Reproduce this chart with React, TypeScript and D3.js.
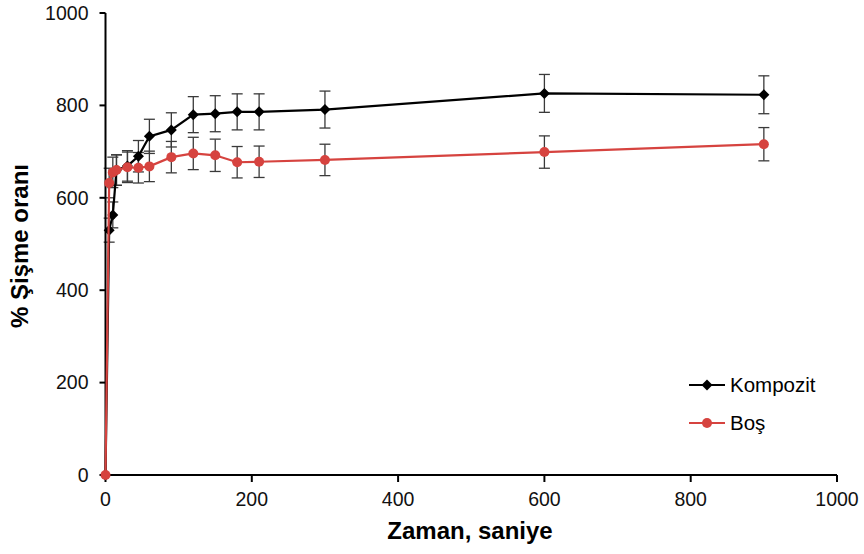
import React from 'react';
import * as d3 from 'd3';

const times = [0, 5, 10, 15, 30, 45, 60, 90, 120, 150, 180, 210, 300, 600, 900];
const kompozit = [0, 530, 563, 660, 669, 690, 733, 747, 780, 782, 786, 786, 791, 826, 823];
const kompozitErr = [0, 26, 28, 33, 33, 34, 37, 37, 39, 39, 39, 39, 40, 41, 41];
const bos = [0, 632, 655, 660, 666, 665, 668, 688, 696, 692, 677, 678, 682, 699, 716];
const bosErr = [0, 32, 33, 33, 33, 33, 33, 34, 35, 35, 34, 34, 34, 35, 36];
const xTicks = [0, 200, 400, 600, 800, 1000];
const yTicks = [0, 200, 400, 600, 800, 1000];

const W = 864;
const H = 554;
const RED = '#d6433f';

const App = () => {
  const x = d3.scaleLinear().domain([0, 1000]).range([105.5, 837]);
  const y = d3.scaleLinear().domain([0, 1000]).range([475, 13]);

  const series = [
    { name: 'Kompozit', values: kompozit, err: kompozitErr, color: '#000', marker: 'diamond' },
    { name: 'Boş', values: bos, err: bosErr, color: RED, marker: 'circle' },
  ];

  const line = d3
    .line<number>()
    .x((_, i) => x(times[i]))
    .y((d) => y(d));

  const diamond = (cx: number, cy: number, r: number) =>
    `M${cx},${cy - r}L${cx + r},${cy}L${cx},${cy + r}L${cx - r},${cy}Z`;

  const marker = (kind: string, cx: number, cy: number, color: string, key?: any) =>
    kind === 'diamond' ? (
      <path key={key} d={diamond(cx, cy, 5.5)} fill={color} />
    ) : (
      <circle key={key} cx={cx} cy={cy} r={5} fill={color} />
    );

  return (
    <svg
      width={W}
      height={H}
      style={{ position: 'absolute', left: 0, top: 0, background: '#fff' }}
      fontFamily="'Liberation Sans', Arial, sans-serif"
    >
      {/* error bars */}
      {series.map((s) => (
        <g key={s.name + 'err'} stroke="#3a3a3a" strokeWidth={1.3}>
          {s.values.map((v, i) =>
            s.err[i] > 0 ? (
              <g key={i}>
                <line x1={x(times[i])} x2={x(times[i])} y1={y(v - s.err[i])} y2={y(v + s.err[i])} />
                <line x1={x(times[i]) - 5.5} x2={x(times[i]) + 5.5} y1={y(v - s.err[i])} y2={y(v - s.err[i])} />
                <line x1={x(times[i]) - 5.5} x2={x(times[i]) + 5.5} y1={y(v + s.err[i])} y2={y(v + s.err[i])} />
              </g>
            ) : null
          )}
        </g>
      ))}

      {/* axes */}
      <g stroke="#000" strokeWidth={2}>
        <line x1={x(0)} x2={x(0)} y1={y(0)} y2={y(1000)} />
        <line x1={x(0)} x2={x(1000)} y1={y(0)} y2={y(0)} />
        {yTicks.map((t) => (
          <line key={'yt' + t} x1={x(0) - 6} x2={x(0)} y1={y(t)} y2={y(t)} />
        ))}
        {xTicks.map((t) => (
          <line key={'xt' + t} x1={x(t)} x2={x(t)} y1={y(0)} y2={y(0) + 7} />
        ))}
      </g>
      {yTicks.map((t) => (
        <text key={'yl' + t} x={x(0) - 17} y={y(t)} dy="0.35em" textAnchor="end" fontSize={19.5} fill="#111">
          {t}
        </text>
      ))}
      {xTicks.map((t) => (
        <text key={'xl' + t} x={x(t)} y={y(0) + 31} textAnchor="middle" fontSize={19.5} fill="#111">
          {t}
        </text>
      ))}

      {/* series */}
      {series.map((s) => (
        <g key={s.name}>
          <path d={line(s.values) || ''} fill="none" stroke={s.color} strokeWidth={2.2} />
          {s.values.map((v, i) => marker(s.marker, x(times[i]), y(v), s.color, i))}
        </g>
      ))}

      {/* axis titles */}
      <text x={470} y={539} textAnchor="middle" fontSize={24} fontWeight="bold" fill="#000">
        Zaman, saniye
      </text>
      <text
        transform={`translate(28,${(y(0) + y(1000)) / 2 + 2}) rotate(-90)`}
        textAnchor="middle"
        fontSize={24}
        fontWeight="bold"
        fill="#000"
      >
        % Şişme oranı
      </text>

      {/* legend */}
      {series.map((s, i) => {
        const ly = 385 + i * 38;
        return (
          <g key={'lg' + s.name}>
            <line x1={689} x2={725} y1={ly} y2={ly} stroke={s.color} strokeWidth={2} />
            {marker(s.marker, 707, ly, s.color)}
            <text x={730} y={ly} dy="0.35em" fontSize={20.5} fill="#000">
              {s.name}
            </text>
          </g>
        );
      })}
    </svg>
  );
};

export default App;
